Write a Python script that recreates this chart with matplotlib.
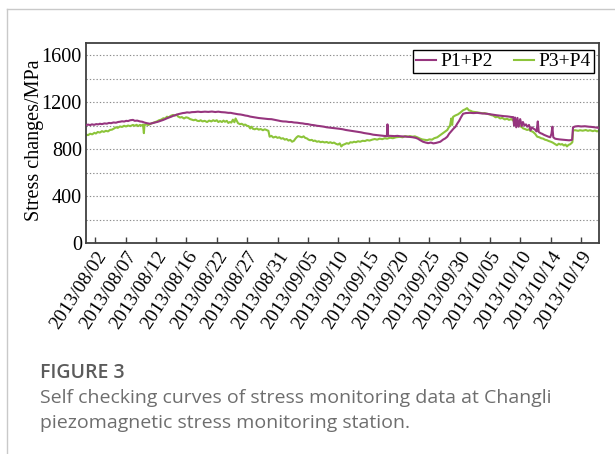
import matplotlib
matplotlib.use("Agg")
import matplotlib.pyplot as plt
from matplotlib.lines import Line2D

# ---------------- data (x = position along the tick sequence) ----------------
tick_labels = ["2013/08/02", "2013/08/07", "2013/08/12", "2013/08/16", "2013/08/22",
               "2013/08/27", "2013/08/31", "2013/09/05", "2013/09/10", "2013/09/15",
               "2013/09/20", "2013/09/25", "2013/09/30", "2013/10/05", "2013/10/10",
               "2013/10/14", "2013/10/19"]

p12_pos = [-0.31, -0.24, -0.17, -0.11, -0.04, 0.03, 0.10, 0.15, 0.22, 0.30, 0.38, 0.45,
           0.52, 0.60, 0.68, 0.75, 0.81, 0.88, 0.95, 1.02, 1.08, 1.15, 1.24, 1.30, 1.38,
           1.47, 1.55, 1.62, 1.70, 1.80, 1.88, 1.96, 2.06, 2.15, 2.24, 2.33, 2.42, 2.50,
           2.56, 2.65, 2.72, 2.79, 2.88, 2.95, 3.02, 3.10, 3.18, 3.28, 3.38, 3.48, 3.61,
           3.72, 3.84, 3.95, 4.05, 4.15, 4.27, 4.38, 4.46, 4.53, 4.62, 4.70, 4.78, 4.86,
           4.94, 5.02, 5.10, 5.19, 5.28, 5.38, 5.45, 5.52, 5.62, 5.70, 5.80, 5.88, 5.95,
           6.03, 6.10, 6.18, 6.28, 6.38, 6.46, 6.54, 6.65, 6.75, 6.83, 6.91, 7.00, 7.10,
           7.20, 7.30, 7.40, 7.53, 7.62, 7.72, 7.86, 7.95, 8.05, 8.15, 8.25, 8.35, 8.45,
           8.55, 8.65, 8.75, 8.85, 8.95, 9.05, 9.15, 9.28, 9.40, 9.50, 9.57, 9.60, 9.62,
           9.64, 9.72, 9.85, 9.95, 10.03, 10.15, 10.25, 10.36, 10.45, 10.55, 10.62, 10.70,
           10.79, 10.88, 10.96, 11.05, 11.13, 11.22, 11.30, 11.36, 11.45, 11.52, 11.59,
           11.65, 11.70, 11.75, 11.80, 11.86, 11.92, 11.98, 12.04, 12.11, 12.20, 12.34,
           12.45, 12.57, 12.70, 12.80, 12.90, 13.00, 13.10, 13.20, 13.33, 13.45, 13.56,
           13.66, 13.72, 13.76, 13.79, 13.82, 13.86, 13.90, 13.94, 13.99, 14.04, 14.08,
           14.13, 14.18, 14.22, 14.28, 14.33, 14.38, 14.42, 14.48, 14.53, 14.57, 14.60,
           14.66, 14.71, 14.78, 14.85, 14.92, 14.98, 15.02, 15.05, 15.08, 15.14, 15.20,
           15.28, 15.36, 15.44, 15.52, 15.60, 15.66, 15.70, 15.73, 15.80, 15.90, 16.00,
           16.12, 16.25, 16.35, 16.45, 16.52, 16.58]
p12_val = [1003, 1008, 1004, 1010, 1006, 1012, 1010, 1015, 1012, 1018, 1016, 1022,
           1020, 1026, 1024, 1030, 1032, 1036, 1034, 1040, 1038, 1045, 1048, 1040, 1042,
           1035, 1032, 1025, 1020, 1015, 1020, 1025, 1032, 1040, 1048, 1058, 1068, 1075,
           1082, 1090, 1096, 1100, 1106, 1108, 1112, 1110, 1114, 1115, 1118, 1115, 1118,
           1116, 1119, 1115, 1118, 1114, 1112, 1108, 1108, 1104, 1100, 1096, 1094, 1090,
           1085, 1082, 1076, 1072, 1068, 1064, 1062, 1060, 1058, 1055, 1054, 1050, 1046,
           1042, 1038, 1035, 1034, 1030, 1030, 1026, 1024, 1020, 1018, 1014, 1012, 1006,
           1003, 998, 995, 990, 985, 982, 978, 975, 972, 968, 962, 958, 954,
           950, 946, 942, 936, 932, 928, 922, 918, 914, 912, 910, 910, 1010,
           912, 912, 910, 912, 909, 907, 905, 903, 900, 895, 888, 875,
           862, 855, 850, 855, 848, 852, 858, 862, 880, 890, 905,
           930, 945, 960, 975, 990, 1017, 1040, 1070, 1100, 1106, 1108,
           1106, 1108, 1104, 1102, 1100, 1096, 1092, 1088, 1084, 1080, 1078,
           1074, 1072, 1072, 1000, 1068, 985, 1065, 990, 1055, 995, 1030,
           1000, 1010, 990, 1005, 960, 985, 975, 965, 950, 1035, 945,
           935, 930, 920, 912, 905, 900, 930, 990, 900, 888, 885,
           882, 880, 878, 876, 874, 876, 880, 985, 992, 995, 992,
           994, 990, 988, 985, 982, 980]

p34_pos = [-0.31, -0.24, -0.17, -0.10, -0.03, 0.02, 0.08, 0.15, 0.22, 0.28, 0.35, 0.42,
           0.48, 0.55, 0.62, 0.68, 0.74, 0.81, 0.88, 0.95, 1.01, 1.08, 1.15, 1.24, 1.30,
           1.36, 1.41, 1.47, 1.53, 1.57, 1.60, 1.62, 1.68, 1.74, 1.80, 1.87, 1.95, 2.03,
           2.10, 2.17, 2.24, 2.30, 2.36, 2.42, 2.48, 2.56, 2.62, 2.68, 2.72, 2.79, 2.85,
           2.92, 2.99, 3.05, 3.12, 3.18, 3.24, 3.30, 3.36, 3.42, 3.47, 3.53, 3.60, 3.68,
           3.75, 3.82, 3.88, 3.94, 4.00, 4.05, 4.11, 4.17, 4.22, 4.27, 4.33, 4.38, 4.43,
           4.48, 4.53, 4.58, 4.62, 4.66, 4.70, 4.76, 4.82, 4.88, 4.94, 4.99, 5.05, 5.10,
           5.15, 5.19, 5.25, 5.32, 5.38, 5.45, 5.52, 5.58, 5.65, 5.70, 5.74, 5.80, 5.86,
           5.94, 6.00, 6.06, 6.12, 6.18, 6.24, 6.30, 6.36, 6.42, 6.48, 6.54, 6.58, 6.63,
           6.68, 6.74, 6.80, 6.86, 6.91, 6.97, 7.02, 7.07, 7.13, 7.18, 7.23, 7.30, 7.36,
           7.42, 7.48, 7.55, 7.62, 7.68, 7.74, 7.80, 7.86, 7.92, 7.99, 8.05, 8.10, 8.15,
           8.22, 8.28, 8.34, 8.40, 8.46, 8.52, 8.58, 8.65, 8.72, 8.80, 8.88, 8.95, 9.03,
           9.12, 9.20, 9.28, 9.36, 9.45, 9.53, 9.61, 9.70, 9.80, 9.90, 10.03, 10.12, 10.20,
           10.30, 10.36, 10.45, 10.52, 10.60, 10.68, 10.76, 10.85, 10.93, 11.00, 11.09,
           11.16, 11.26, 11.34, 11.42, 11.50, 11.59, 11.64, 11.68, 11.72, 11.75, 11.78,
           11.85, 11.94, 12.02, 12.11, 12.18, 12.24, 12.30, 12.36, 12.42, 12.50, 12.58,
           12.67, 12.75, 12.82, 12.90, 12.98, 13.05, 13.10, 13.18, 13.25, 13.33, 13.40,
           13.48, 13.56, 13.62, 13.70, 13.76, 13.82, 13.88, 13.93, 13.99, 14.05, 14.09,
           14.15, 14.22, 14.28, 14.32, 14.38, 14.42, 14.48, 14.55, 14.62, 14.68, 14.75,
           14.80, 14.87, 14.93, 15.00, 15.06, 15.12, 15.20, 15.26, 15.32, 15.37, 15.43,
           15.48, 15.53, 15.58, 15.63, 15.68, 15.71, 15.73, 15.80, 15.90, 15.96, 16.05,
           16.15, 16.22, 16.29, 16.38, 16.45, 16.52, 16.58]
p34_val = [924, 918, 930, 925, 938, 932, 945, 940, 952, 946, 955, 950,
           962, 965, 975, 985, 980, 992, 988, 998, 992, 1000, 995, 1005, 998,
           1006, 995, 1005, 1000, 1008, 935, 1005, 1010, 1004, 1012, 1020, 1028, 1035,
           1045, 1050, 1062, 1060, 1075, 1070, 1082, 1090, 1085, 1092, 1078, 1068, 1072,
           1060, 1070, 1066, 1055, 1050, 1045, 1050, 1040, 1038, 1045, 1035, 1040, 1030,
           1042, 1035, 1045, 1038, 1045, 1030, 1038, 1030, 1042, 1032, 1040, 1022, 1030,
           1025, 1050, 1028, 1060, 1040, 1020, 1012, 1015, 1005, 1008, 998, 995, 975,
           990, 972, 968, 975, 965, 970, 960, 968, 960, 955, 905, 912, 898,
           905, 895, 900, 888, 892, 880, 885, 872, 878, 862, 870, 885, 900,
           910, 905, 900, 908, 895, 890, 880, 875, 878, 868, 872, 862, 866,
           858, 862, 856, 860, 852, 858, 850, 855, 845, 838, 848, 822, 835,
           842, 850, 845, 858, 855, 862, 858, 866, 862, 870, 868, 876, 872,
           880, 885, 880, 888, 884, 892, 888, 896, 892, 900, 904, 900, 910,
           906, 910, 905, 908, 900, 890, 882, 878, 875, 882, 880,
           892, 900, 915, 930, 945, 962, 985, 1000, 1060, 1005, 1074,
           1085, 1095, 1110, 1130, 1138, 1148, 1130, 1125, 1118, 1115, 1112,
           1108, 1104, 1106, 1100, 1095, 1088, 1085, 1070, 1075, 1060, 1065,
           1052, 1058, 1048, 1055, 1042, 1030, 1020, 1008, 995, 985, 975,
           970, 962, 968, 955, 950, 944, 930, 905, 900, 892, 888,
           880, 875, 868, 862, 855, 845, 832, 845, 838, 842, 830,
           838, 822, 835, 840, 850, 860, 958, 960, 955, 960, 956,
           962, 955, 960, 952, 958, 950, 955]

series_names = ["P1+P2", "P3+P4"]
series_colors = ["#96357e", "#8cc43a"]

# ---------------- figure ----------------
W, H = 615, 454
fig = plt.figure(figsize=(W / 100, H / 100), dpi=100)
serif = ["Liberation Serif", "DejaVu Serif"]
sans = ["Open Sans", "DejaVu Sans"]

# card border lines
fig.add_artist(Line2D([7 / W, 7 / W], [0, 1 - 9 / H], color="#c9c9c9", lw=1.0))
fig.add_artist(Line2D([7 / W, 1], [1 - 9 / H, 1 - 9 / H], color="#c9c9c9", lw=1.0))

ax = fig.add_axes([86 / W, 1 - 243 / H, (599 - 86) / W, (243 - 43.3) / H])

ax.plot(p12_pos, p12_val, color=series_colors[0], lw=1.5, label=series_names[0], zorder=3)
ax.plot(p34_pos, p34_val, color=series_colors[1], lw=1.5, label=series_names[1], zorder=2)

ax.set_ylim(0, 1700)
ax.set_xlim(-0.306, 16.585)

ax.set_yticks([0, 400, 800, 1200, 1600])
ax.set_yticks(range(200, 1700, 200), minor=True)
ax.set_xticks(range(len(tick_labels)))
ax.set_xticklabels(tick_labels, rotation=57, ha="right", rotation_mode="anchor",
                   family=serif, fontsize=14)
for lbl in ax.get_yticklabels():
    lbl.set_family(serif)
    lbl.set_fontsize(14.5)

ax.yaxis.grid(True, which="both", color="#8c8c8c", linestyle=(0, (1.2, 1.8)), lw=0.8)
ax.set_axisbelow(True)
ax.tick_params(axis="y", which="both", length=0, pad=3)
ax.tick_params(axis="x", direction="in", length=4, width=1, color="#404040", pad=4)

for s in ax.spines.values():
    s.set_color("#404040")
    s.set_linewidth(1.3)

ax.set_ylabel("Stress changes/MPa", family=serif, fontsize=14.5)
ax.yaxis.set_label_coords(-0.082, 0.515)

leg = ax.legend(loc="upper right", bbox_to_anchor=(0.99, 0.967), ncol=2,
                frameon=True, fancybox=False, edgecolor="black", framealpha=1,
                prop={"family": serif, "size": 14}, handlelength=1.0,
                handletextpad=0.25, columnspacing=1.1, borderpad=0.15,
                borderaxespad=0.0)
leg.get_frame().set_linewidth(1.0)

# caption
fig.text(40 / W, 1 - 373 / H, "FIGURE 3", family=sans,
         fontweight="semibold", fontsize=14, color="#5b5b5b", va="center", ha="left")
fig.text(40 / W, 1 - 398 / H,
         "Self checking curves of stress monitoring data at Changli",
         family=sans, fontsize=14, color="#6e6e6e", va="center", ha="left")
fig.text(40 / W, 1 - 423 / H, "piezomagnetic stress monitoring station.",
         family=sans, fontsize=14, color="#6e6e6e", va="center", ha="left")

fig.savefig("out.png", dpi=100)
